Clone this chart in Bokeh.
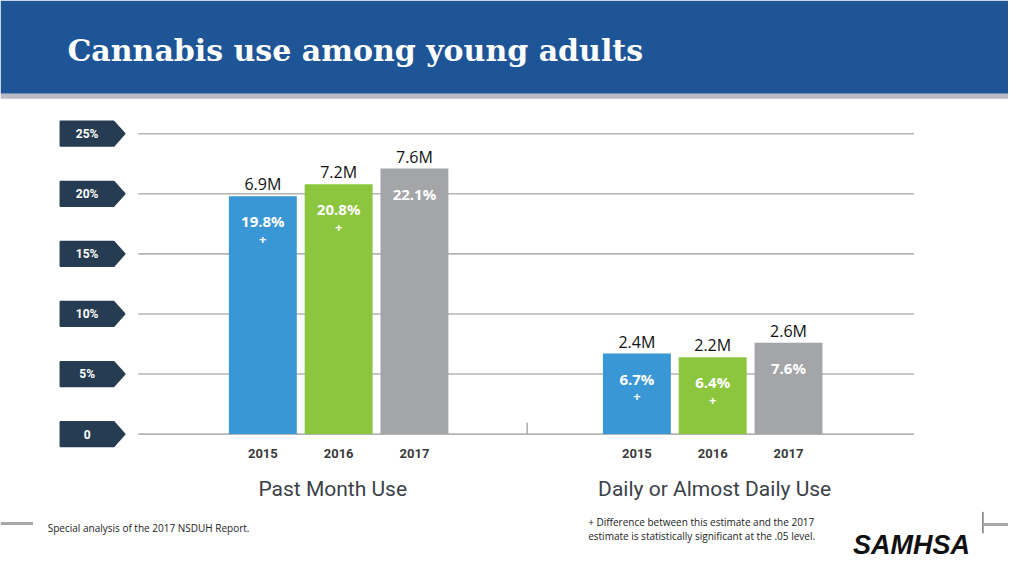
from bokeh.plotting import figure
from bokeh.models import Range1d, ColumnDataSource
from bokeh.core.properties import value
from bokeh.embed import file_html
from bokeh.resources import INLINE

# ---------------- data ----------------
title = "Cannabis use among young adults"
groups = ["Past Month Use", "Daily or Almost Daily Use"]
years = ["2015", "2016", "2017"]
pct_past_month = [19.8, 20.8, 22.1]
pct_daily = [6.7, 6.4, 7.6]
pct_labels_past_month = ["19.8%", "20.8%", "22.1%"]
pct_labels_daily = ["6.7%", "6.4%", "7.6%"]
counts_past_month = ["6.9M", "7.2M", "7.6M"]
counts_daily = ["2.4M", "2.2M", "2.6M"]
signif_past_month = ["+", "+", ""]
signif_daily = ["+", "+", ""]
y_ticks = [0, 5, 10, 15, 20, 25]
y_tick_labels = ["0", "5%", "10%", "15%", "20%", "25%"]
source_note = "Special analysis of the 2017 NSDUH Report."
footnote_lines = ["+ Difference between this estimate and the 2017",
                  "estimate is statistically significant at the .05 level."]
logo_text = "SAMHSA"

# ---------------- styles / layout ----------------
YEAR_COLORS = ["#3a97d6", "#8cc63f", "#a3a5a8"]
HEADER_BLUE = "#1e5597"
TAG_COLOR = "#263c52"
GRID_COLOR = "#b5b5b5"
W, H = 1008, 560          # canvas size
REF_W, REF_H = 1024, 576  # design grid (slide pixels)
ZERO_PY = 446.0
PX_PER_PCT = (446.0 - 137.0) / 25.0
GROUP_CENTERS = [343.5, 723.5]
BAR_STEP = 77.0
BAR_WIDTH = 69.0


def ypx(py):
    """slide pixel row -> percent units"""
    return (ZERO_PY - py) / PX_PER_PCT


def spx(px):
    """slide pixel length -> percent units"""
    return px / PX_PER_PCT


p = figure(width=W, height=H, x_range=Range1d(0, REF_W), y_range=Range1d(ypx(REF_H), ypx(0)),
           output_backend="svg", toolbar_location=None,
           x_axis_location=None, y_axis_location=None, min_border=0,
           outline_line_color=None, background_fill_color="white", border_fill_color="white")
p.xgrid.visible = False
p.ygrid.visible = False

# header
p.quad(left=0, right=REF_W, top=ypx(0), bottom=ypx(96), fill_color=HEADER_BLUE, line_color=None)
p.quad(left=0, right=REF_W, top=ypx(96), bottom=ypx(101), fill_color="#b9bcc1", line_color=None)
p.text(x=[68], y=[ypx(51)], text=[title], text_font=value("DejaVu Serif"), text_font_style="bold",
       text_font_size="30px", text_color="white", text_baseline="middle", text_align="left")

# grid lines
p.segment(x0=[140] * len(y_ticks), x1=[928] * len(y_ticks), y0=y_ticks, y1=y_ticks,
          line_color=GRID_COLOR, line_width=1.6)
p.segment(x0=[535], x1=[535], y0=[ypx(434)], y1=[0], line_color="#999999", line_width=1.2)

# tick tags
tag_xs, tag_ys = [], []
hh = spx(12.5)
for t in y_ticks:
    tag_xs.append([61, 115, 126, 115, 61])
    tag_ys.append([t + hh, t + hh, t, t - hh, t - hh])
p.patches(xs=tag_xs, ys=tag_ys, fill_color=TAG_COLOR, line_color=TAG_COLOR, line_width=2, line_join="round")
p.text(x=[88] * len(y_ticks), y=y_ticks, text=y_tick_labels, text_font=value("Roboto"),
       text_font_style="bold", text_font_size="12px", text_color="white",
       text_align="center", text_baseline="middle")

# bars
all_pct = [pct_past_month, pct_daily]
all_pct_labels = [pct_labels_past_month, pct_labels_daily]
all_counts = [counts_past_month, counts_daily]
all_signif = [signif_past_month, signif_daily]
xs, tops, colors, plabs, clabs, slabs, yrs = [], [], [], [], [], [], []
for g, gc in enumerate(GROUP_CENTERS):
    for i, yr in enumerate(years):
        xs.append(gc + (i - 1) * BAR_STEP)
        tops.append(all_pct[g][i])
        colors.append(YEAR_COLORS[i])
        plabs.append(all_pct_labels[g][i])
        clabs.append(all_counts[g][i])
        slabs.append(all_signif[g][i])
        yrs.append(yr)
src = ColumnDataSource(dict(x=xs, top=tops, color=colors, plab=plabs, clab=clabs, slab=slabs, yr=yrs))
p.vbar(x="x", top="top", bottom=0, width=BAR_WIDTH, fill_color="color", line_color=None, source=src)

p.text(x="x", y="top", text="clab", source=src, y_offset=-1, text_font=value("Open Sans"),
       text_font_size="16px", text_color="#111111", text_align="center", text_baseline="bottom")
p.text(x="x", y="top", text="plab", source=src, y_offset=25, text_font=value("Open Sans"),
       text_font_style="bold", text_font_size="15px", text_color="white",
       text_align="center", text_baseline="middle")
p.text(x="x", y="top", text="slab", source=src, y_offset=43, text_font=value("Open Sans"),
       text_font_style="bold", text_font_size="13px", text_color="white",
       text_align="center", text_baseline="middle")

# year labels and group titles
p.text(x="x", y=ypx(466), text="yr", source=src, text_font=value("Roboto"), text_font_style="bold",
       text_font_size="13px", text_color="#3a3a3a", text_align="center", text_baseline="middle")
p.text(x=[GROUP_CENTERS[0] - 6, GROUP_CENTERS[1] + 2], y=[ypx(502)] * 2, text=groups,
       text_font=value("Roboto"), text_font_size="21px", text_color="#3b4148",
       text_align="center", text_baseline="middle")

# footer
p.segment(x0=[0], x1=[33], y0=[ypx(538)], y1=[ypx(538)], line_color="#a8a8a8", line_width=3)
p.segment(x0=[999], x1=[REF_W], y0=[ypx(539)], y1=[ypx(539)], line_color="#a8a8a8", line_width=3)
p.segment(x0=[998], x1=[998], y0=[ypx(526)], y1=[ypx(548)], line_color="#333333", line_width=1)
p.text(x=[48], y=[ypx(543)], text=[source_note], text_font=value("Open Sans"), text_font_size="10px",
       text_color="#222222", text_align="left", text_baseline="middle")
p.text(x=[597, 597], y=[ypx(536), ypx(551)], text=footnote_lines, text_font=value("Open Sans"),
       text_font_size="10px", text_color="#222222", text_align="left", text_baseline="middle")
p.text(x=[866], y=[ypx(560)], text=[logo_text], text_font=value("Liberation Sans"),
       text_font_style="bold italic", text_font_size="27px", text_color="#111111",
       text_align="left", text_baseline="middle")

open("out.html", "w").write(file_html(p, INLINE))
